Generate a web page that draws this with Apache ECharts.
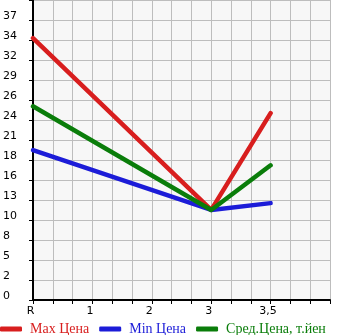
<!DOCTYPE html>
<html><head><meta charset="utf-8">
<script src="https://cdn.jsdelivr.net/npm/echarts@6/dist/echarts.min.js"></script>
<style>html,body{margin:0;padding:0;background:#fff}#c{width:345px;height:335px}</style>
</head><body><div id="c"></div>
<script>
const xLabels = ['R', '1', '2', '3', '3,5', ''];
const yLabels = ['0','2','5','8','10','13','16','18','21','24','26','29','32','34','37',''];
const xPos = [0, 3, 4];
const maxPrice = [34.6, 11.9, 24.7];
const minPrice = [19.8, 11.9, 12.8];
const avgPrice = [25.6, 11.9, 17.8];
const seriesNames = ['Max Цена', 'Min Цена', 'Сред.Цена, т.йен'];
const colors = ['#d81e1e', '#1c1cd8', '#0a7d0a'];

const yStep = 37 / 14;
const pair = (vals) => vals.map((v, i) => [xPos[i], v]);
const chart = echarts.init(document.getElementById('c'), null, {renderer: 'canvas'});
const allData = [maxPrice, minPrice, avgPrice];
chart.setOption({
  animation: false,
  grid: {left: 30, right: 15, top: 0, bottom: 35, show: true, backgroundColor: '#f7f7f7', borderWidth: 0},
  legend: {
    left: 0, top: 322, padding: 0, icon: 'roundRect', itemWidth: 22, itemHeight: 5, itemGap: 10,
    textStyle: {fontFamily: 'Liberation Serif', fontSize: 14, padding: [0, 0, 0, 3]},
    data: seriesNames.map((n, i) => ({name: n, textStyle: {color: colors[i]}}))
  },
  xAxis: {
    type: 'value', min: 0, max: 5, interval: 1,
    axisLine: {show: true, onZero: false, lineStyle: {color: '#000', width: 2}},
    axisTick: {show: true, length: 4, lineStyle: {color: '#000'}},
    minorTick: {show: true, splitNumber: 3, length: 4, lineStyle: {color: '#000'}},
    splitLine: {show: true, lineStyle: {color: '#bdbdbd', width: 1}},
    minorSplitLine: {show: true, lineStyle: {color: '#bdbdbd', width: 1}},
    axisLabel: {color: '#000', fontFamily: 'DejaVu Sans', fontSize: 11, margin: 6,
      padding: [0, 5, 0, 0],
      formatter: (v) => xLabels[Math.round(v)] || ''}
  },
  yAxis: {
    type: 'value', min: 0, max: yStep * 15, interval: yStep,
    axisLine: {show: true, lineStyle: {color: '#000', width: 2}},
    axisTick: {show: true, length: 4, lineStyle: {color: '#000'}},
    splitLine: {show: true, lineStyle: {color: '#bdbdbd', width: 1}},
    axisLabel: {color: '#000', fontFamily: 'DejaVu Sans', fontSize: 11, margin: 30, align: 'left',
      verticalAlign: 'middle',
      rich: {a: {color: '#000', fontFamily: 'DejaVu Sans', fontSize: 11, padding: [0, 0, 7, 0]}},
      formatter: (v) => {
        const t = yLabels[Math.round(v / yStep)] || '';
        return t ? '{a|' + t + '}' : '';
      }}
  },
  series: allData.map((d, i) => ({
    name: seriesNames[i], type: 'line', data: pair(d), showSymbol: false, symbol: 'none',
    itemStyle: {color: colors[i]},
    lineStyle: {color: colors[i], width: 4.5, cap: 'round', join: 'round'}
  }))
});
</script></body></html>
